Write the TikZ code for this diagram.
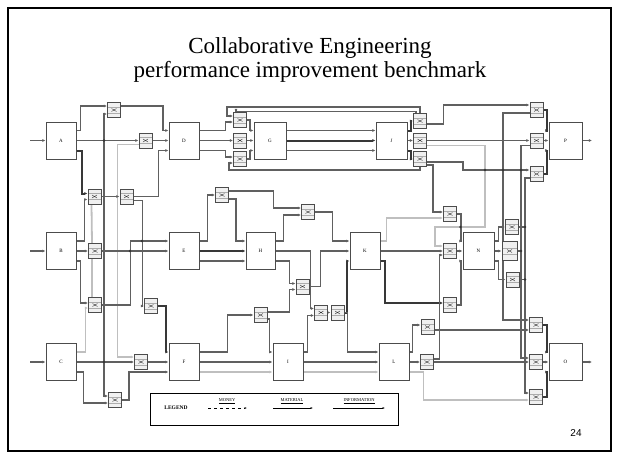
\documentclass[tikz,border=0pt]{standalone}
\usepackage{fontspec}
\setmainfont{Liberation Serif}
\newfontfamily\arialf{Liberation Sans}
\usetikzlibrary{arrows.meta,calc}
\pgfdeclarelayer{bg}
\pgfsetlayers{bg,main}
\begin{document}
\begin{tikzpicture}[x=1pt,y=-1pt,
 mbox/.style={draw=gray!60!black,line width=1pt,fill=white,minimum width=30pt,minimum height=37pt,inner sep=0pt,font=\fontsize{5}{5}\selectfont},
 jbox/.style={draw=gray!60!black,line width=0.9pt,fill=gray!12,minimum width=13pt,minimum height=15pt,inner sep=0pt,
   path picture={
     \draw[gray!65,line width=0.6pt] ([yshift=-3pt]path picture bounding box.west) -- ([yshift=-3pt]path picture bounding box.east)
       ([yshift=3pt]path picture bounding box.west) -- ([yshift=3pt]path picture bounding box.east);
     \draw[gray!40!black,line width=0.4pt] ([shift={(-2.5pt,1.5pt)}]path picture bounding box.center) -- ([shift={(2.5pt,-1.5pt)}]path picture bounding box.center)
       ([shift={(-2.5pt,-1.5pt)}]path picture bounding box.center) -- ([shift={(2.5pt,1.5pt)}]path picture bounding box.center);}},
 ln/.style={draw=gray!75!black,line width=1.25pt},
 lt/.style={draw=gray!50,line width=1.8pt},
 dk/.style={draw=black!78,line width=2pt},
 ar/.style={-{Latex[length=3.2pt,width=3pt]}},
 jdot/.style={circle,fill=gray!40!black,inner sep=0pt,minimum size=2.8pt},
 legtxt/.style={font=\fontsize{4.5}{4.5}\selectfont,inner sep=0.5pt}]
\useasboundingbox (0,0) rectangle (619,459);
\draw[line width=2pt] (8,8) rectangle (611,451);

% title
\node[font=\fontsize{23}{23}\selectfont,anchor=base] (title1) at (310,53) {Collaborative Engineering};
\node[font=\fontsize{23}{23}\selectfont,anchor=base] (title2) at (310,77) {performance improvement benchmark};
\node[font=\arialf\fontsize{10}{10}\selectfont] (pgno) at (576,433) {24};

% main blocks
\node[mbox] (A) at (61,140.5) {A};
\node[mbox] (D) at (184,140.5) {D};
\node[mbox,minimum width=32pt] (G) at (270,140.5) {G};
\node[mbox,minimum width=31pt] (J) at (391.5,140.5) {J};
\node[mbox,minimum width=33pt] (P) at (565.5,140.5) {P};
\node[mbox] (B) at (61,251) {B};
\node[mbox] (E) at (184,251) {E};
\node[mbox,minimum width=29pt] (H) at (260.5,251) {H};
\node[mbox] (K) at (365,251) {K};
\node[mbox,minimum width=31pt] (N) at (478.5,251) {N};
\node[mbox] (C) at (61,362) {C};
\node[mbox] (F) at (184,362) {F};
\node[mbox] (I) at (288,362) {I};
\node[mbox] (L) at (394,362) {L};
\node[mbox,minimum width=33pt] (O) at (565.5,362) {O};

% junction boxes
\node[jbox] (t1) at (114,110) {};
\node[jbox] (t2) at (145.5,140.5) {};
\node[jbox] (g1) at (240,120) {};
\node[jbox] (g2) at (240,140.5) {};
\node[jbox] (g3) at (240,159) {};
\node[jbox] (j1) at (420,121) {};
\node[jbox] (j2) at (420,140.5) {};
\node[jbox] (j3) at (420,159) {};
\node[jbox] (p1) at (536.5,110) {};
\node[jbox] (p2) at (536.5,140.5) {};
\node[jbox] (p3) at (536.5,174) {};
\node[jbox] (q1) at (94.5,196.5) {};
\node[jbox] (q2) at (126.5,196.5) {};
\node[jbox] (b1) at (95,251) {};
\node[jbox] (b2) at (95,305) {};
\node[jbox] (b3) at (151,306) {};
\node[jbox] (f1) at (141,362) {};
\node[jbox] (f2) at (115,400) {};
\node[jbox] (h1) at (222,195) {};
\node[jbox] (h2) at (308,212) {};
\node[jbox] (h3) at (302.5,286.5) {};
\node[jbox] (h4) at (321,312.5) {};
\node[jbox] (h5) at (337.5,312.5) {};
\node[jbox] (i1) at (260.5,315) {};
\node[jbox] (k1) at (450,214) {};
\node[jbox] (k2) at (450,251) {};
\node[jbox] (k3) at (450,305) {};
\node[jbox] (n1) at (512,227) {};
\node[jbox,minimum width=15pt,minimum height=19pt] (n2) at (509.5,251) {};
\node[jbox] (n3) at (512.5,279.5) {};
\node[jbox] (l1) at (427.5,327) {};
\node[jbox] (l2) at (427,362) {};
\node[jbox] (o1) at (536,325) {};
\node[jbox] (o2) at (536,362) {};
\node[jbox] (o3) at (536,397) {};

% legend
\node[draw,line width=0.8pt,minimum width=248pt,minimum height=32pt,inner sep=0pt] (leg) at (274,409) {};
\node[legtxt,font=\fontsize{5.5}{5.5}\selectfont\bfseries] (legt) at (176,408) {LEGEND};
\node[legtxt] (lg1) at (227,401) {\underline{MONEY}};
\node[legtxt] (lg2) at (292,401) {\underline{MATERIAL}};
\node[legtxt] (lg3) at (359,401) {\underline{INFORMATION}};
\coordinate (lg1a) at (208,408); \coordinate (lg1b) at (247,408);
\coordinate (lg2a) at (273,408); \coordinate (lg2b) at (313,408);
\coordinate (lg3a) at (333,408); \coordinate (lg3b) at (385,408);
\draw[line width=0.7pt,dashed,-{Latex[length=2.5pt,width=2pt]}] (lg1a) -- (lg1b);
\draw[line width=0.7pt,-{Latex[length=2.5pt,width=2pt]}] (lg2a) -- (lg2b);
\draw[line width=0.7pt,-{Latex[length=2.5pt,width=2pt]}] (lg3a) -- (lg3b);

% free ends and junctions
\coordinate (inA) at (30,140.5); \coordinate (inB) at (30,251); \coordinate (inC) at (30,362);
\coordinate (outP) at (592,140.5); \coordinate (outO) at (592,362);
\coordinate (jA) at (104,140.5);

\begin{pgfonlayer}{bg}
% inputs / outputs
\draw[ln,ar] (inA) -- (A.west);
\draw[ln,ar] (inB) -- (B.west);
\draw[ln,ar] (inC) -- (C.west);
\draw[ln,ar] (P.east) -- (outP);
\draw[ln,ar] (O.east) -- (outO);

% ---- left channel
\draw[ln,ar] ([yshift=10pt]A.east) -- ++(4,0) |- ([yshift=4pt]t1.west);
\draw[ln,ar] (A.east) -- (t2.west);
\draw[ln,ar] (t2.east) -- (D.west);
\draw[ln,ar] (jA) |- ([yshift=-4pt]t1.west);
\draw[ln,ar] (jA) |- ([yshift=4pt]f2.west);
\draw[dk,ar] ([yshift=-10pt]A.east) -- ++(5,0) |- ([yshift=3pt]q1.west);
\draw[ln,ar] ([yshift=4pt]t1.east) -- ++(42,0) |- ([yshift=10pt]D.west);
\draw[lt,ar] ([yshift=-4pt]t2.west) -- ++(-21,0) |- ([yshift=5pt]f1.west);
\draw[ln,ar] (q1.east) -- (q2.west);
\draw[ln,ar] (q2.east) -- ++(25,0) |- ([yshift=-10pt]D.west);
\draw[ln,ar] ([yshift=-4pt]q2.east) -- ++(9,0) |- (b3.west);
\draw[ln,ar] ([yshift=10pt]B.east) -- ++(8,0) |- ([yshift=-3pt]q1.west);
\draw[ln,ar] (B.east) -- (b1.west);
\draw[ln,ar] (b1.east) -- (E.west);
\draw[ln,ar] (b2.east) -- ++(28.5,0) |- ([yshift=10pt]E.west);
\draw[dk,ar] (b3.east) -- ++(8.5,0) |- ([yshift=10pt]F.west);
\draw[ln,ar] ([yshift=-10pt]B.east) -- ++(4,0) |- ([yshift=2pt]b2.west);
\draw[lt,ar] ([yshift=10pt]C.east) -- ++(9,0) |- ([yshift=-3pt]b2.west);
\draw[ln,ar] (C.east) -- (f1.west);
\draw[ln,ar] (f1.east) -- (F.west);
\draw[ln,ar] ([yshift=-10pt]C.east) -- ++(7,0) |- ([yshift=-3pt]f2.west);
\draw[ln,ar] (f2.east) -- ++(7,0) |- ([yshift=-10pt]F.west);
\draw[lt] ([xshift=-3pt]q1.south) -- ([xshift=-3pt]b1.north);
\draw[lt] ([xshift=-3pt]b1.south) -- ([xshift=-3pt]b2.north);

% ---- top row
\draw[ln,ar] ([yshift=10pt]D.east) -- ++(26,0) |- ([yshift=-2pt]g1.west);
\draw[ln,ar] (D.east) -- (g2.west);
\draw[ln,ar] ([yshift=-10pt]D.east) -- ++(26,0) |- ([yshift=2pt]g3.west);
\draw[ln,ar] (g1.east) -- ++(3,0) |- ([yshift=10pt]G.west);
\draw[ln,ar] (g2.east) -- (G.west);
\draw[ln,ar] (g3.east) -- ++(3,0) |- ([yshift=-10pt]G.west);
\draw[ln,ar] ([yshift=10pt]G.east) -- ([yshift=10pt]J.west);
\draw[dk,ar] (G.east) -- (J.west);
\draw[ln,ar] ([yshift=-10pt]G.east) -- ([yshift=-10pt]J.west);
\draw[ln,ar] (j1.north) |- (227,107) |- ([yshift=4pt]g1.west);
\draw[ln,ar] ([xshift=-4pt]j1.north) |- (236,111.5) -- ([xshift=-4pt]g1.north);
\draw[ln,ar] (j3.south) |- (229,170) |- ([yshift=-4pt]g3.west);
\draw[dk,ar] ([yshift=10pt]J.east) -- ++(3,0) |- (j1.west);
\draw[ln,ar] (J.east) -- (j2.west);
\draw[dk,ar] ([yshift=-10pt]J.east) -- ++(3,0) |- (j3.west);
\draw[ln,ar] ([yshift=-3pt]j1.east) -- ++(16.5,0) |- ([yshift=5pt]p1.west);
\draw[ln,ar] (j2.east) -- (p2.west);
\draw[lt,ar] ([yshift=-5pt]j2.east) -| (485,227) -- (435,227) |- ([yshift=5pt]k2.west);
\draw[ln,ar] ([yshift=-3pt]j3.east) -| (463,170) -- ([yshift=4pt]p3.west);
\draw[ln,ar] ([yshift=-6pt]j3.east) -- ++(6,0) |- ([yshift=2pt]k1.west);
\draw[dk,ar] (p1.east) -- ++(4,0) |- ([yshift=10pt]P.west);
\draw[ln,ar] (p2.east) -- (P.west);
\draw[dk,ar] (p3.east) -- ++(4,0) |- ([yshift=-10pt]P.west);
\draw[ln,ar] ([yshift=-3pt]p1.west) -| (503,320) -- ([yshift=5pt]o1.west);
\draw[ln,ar] ([yshift=-5pt]p2.west) -| (521,358) -- ([yshift=4pt]o2.west);
\draw[ln,ar] ([yshift=-4pt]p3.west) -| (525,393) -- ([yshift=4pt]o3.west);

% ---- middle row
\draw[ln,ar] ([yshift=10pt]E.east) -- ++(8,0) |- (h1.west);
\draw[ln,ar] ([yshift=4pt]h1.east) -- ++(44.5,0) |- ([yshift=4pt]h2.west);
\draw[ln,ar] ([yshift=-4pt]h1.east) -- ++(7,0) |- ([yshift=10pt]H.west);
\draw[dk,ar] (E.east) -- (H.west);
\draw[ln,ar] ([yshift=-10pt]E.east) -- ([yshift=-10pt]H.west);
\draw[ln,ar] ([yshift=10pt]H.east) -- ++(8,0) |- ([yshift=-3pt]h2.west);
\draw[ln,ar] (h2.east) -- ++(17.5,0) |- ([yshift=10pt]K.west);
\draw[ln,ar] (H.east) -- ++(35,0) |- ([yshift=4pt]h4.west);
\draw[ln,ar] ([yshift=-10pt]H.east) -- ++(14,0) |- ([yshift=3pt]h3.west);
\draw[ln,ar] ([yshift=3pt]i1.east) -- ++(22,0) |- ([yshift=-3pt]h3.west);
\draw[ln,ar] (h3.east) -- ++(11,0) |- (K.west);
\draw[ln,ar] (h4.east) -- (h5.west);
\draw[dk,ar] (h5.east) -- ++(3,0) |- ([yshift=-10pt]K.west);
\draw[ln,ar] (h5.east) -- ++(3,0) |- ([yshift=10pt]L.west);
\draw[lt,ar] ([yshift=10pt]K.east) -- ++(6,0) |- ([yshift=-4pt]k1.west);
\draw[ln,ar] (K.east) -- (k2.west);
\draw[dk,ar] ([yshift=-10pt]K.east) -- ++(4,0) |- ([yshift=2pt]k3.west);
\draw[ln,ar] (k1.east) -- ++(4,0) |- ([yshift=10pt]N.west);
\draw[ln,ar] (k2.east) -- (N.west);
\draw[ln,ar] (k3.east) -- ++(4,0) |- ([yshift=-10pt]N.west);
\draw[ln,ar] ([yshift=3pt]l2.east) -- ++(5.5,0) |- ([yshift=-4pt]k2.west);
\draw[ln,ar] ([yshift=10pt]N.east) -- ++(4,0) |- (n1.west);
\draw[ln,ar] (N.east) -- (n2.west);
\draw[ln,ar] ([yshift=-10pt]N.east) -- ++(4,0) |- (n3.west);
\draw[ln] (n1.east) -- (525,227);
\draw[ln] (n2.east) -- (521,251);
\draw[ln] (n3.east) -- (525,279.5);

% ---- bottom row
\draw[ln,ar] ([yshift=10pt]F.east) -- ++(28,0) |- (i1.west);
\draw[ln,ar] ([yshift=-4pt]i1.east) -- ++(2,0) |- ([yshift=10pt]I.west);
\draw[ln,ar] (F.east) -- (I.west);
\draw[lt,ar] ([yshift=-10pt]F.east) -- ([yshift=-10pt]I.west);
\draw[ln,ar] ([yshift=10pt]I.east) -- ++(4,0) |- ([yshift=-3pt]h4.west);
\draw[ln,ar] (I.east) -- (L.west);
\draw[lt,ar] ([yshift=-10pt]I.east) -- ([yshift=-10pt]L.west);
\draw[ln,ar] ([yshift=10pt]L.east) -- ++(3,0) |- ([yshift=2pt]l1.west);
\draw[ln,ar] ([yshift=-3pt]l1.east) -- ([yshift=-5pt]o1.west);
\draw[ln,ar] (L.east) -- (l2.west);
\draw[ln,ar] (l2.east) -- (o2.west);
\draw[lt,ar] ([yshift=-10pt]L.east) -- ++(14,0) |- ([yshift=-3pt]o3.west);
\draw[dk,ar] (o1.east) -- ++(4,0) |- ([yshift=10pt]O.west);
\draw[ln,ar] (o2.east) -- (O.west);
\draw[dk,ar] (o3.east) -- ++(4,0) |- ([yshift=-10pt]O.west);
\end{pgfonlayer}

% junction dots
\foreach \p in {(104,140.5),(104,362),(130,251),(142,241),(485,170),(503,170),(521,170),(460.5,227),(525,227),(521,251),(525,279.5)}
  \node[jdot] at \p {};
\end{tikzpicture}
\end{document}
